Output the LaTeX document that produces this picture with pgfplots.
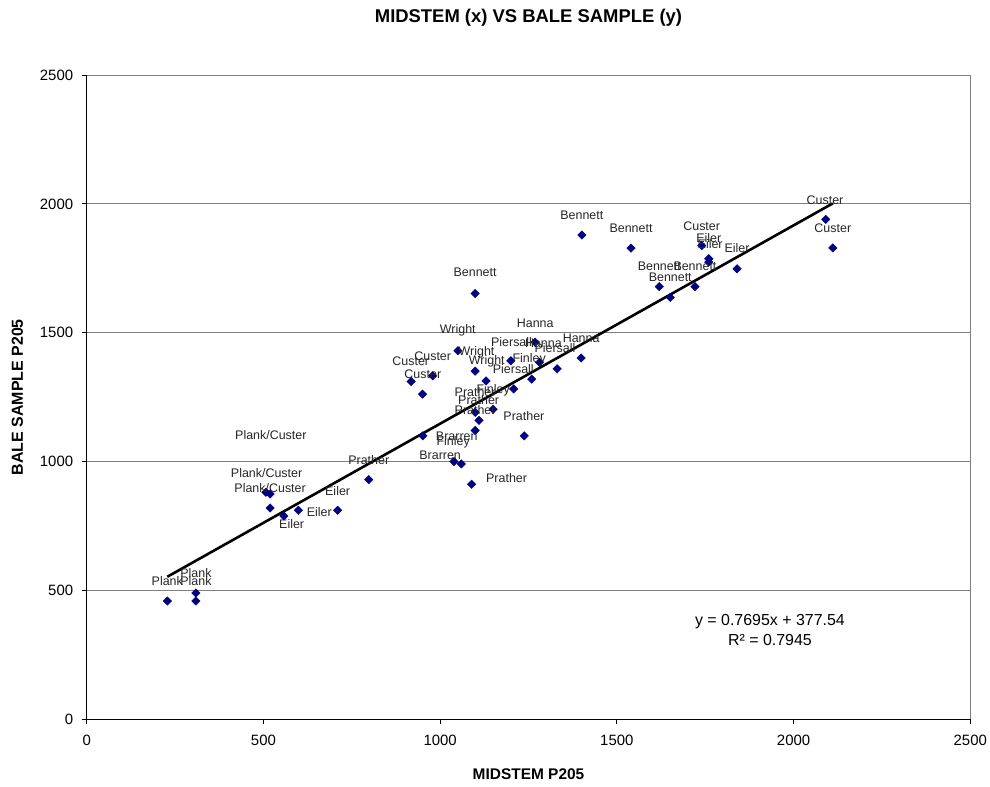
\documentclass[border=0pt]{standalone}
\usepackage{pgfplots}
\pgfplotsset{compat=1.18}
\usepackage{fontspec}
\setmainfont{Liberation Sans}

\definecolor{navymark}{HTML}{000080}
\definecolor{gridgray}{HTML}{7F7F7F}

% point values (midstem, bale sample)
\pgfplotstableread{
x y
228 459
309 490
309 459
507 881
519 874
519 820
558 789
599 811
710 811
798 930
1050 1430
1099 1351
1130 1313
979 1333
918 1311
950 1262
1269 1463
1200 1391
1281 1385
1331 1360
1399 1402
1259 1320
1208 1282
1150 1203
1099 1191
1110 1160
1099 1121
1238 1100
1089 912
951 1100
1039 1000
1060 991
1401 1879
1540 1828
1740 1838
1760 1787
1760 1774
1840 1748
1620 1679
1721 1679
1651 1637
2091 1940
2111 1829
1099 1652
}\points

% label positions as drawn in the chart
\pgfplotstableread{
x y label
1050 1508 Wright
1103 1426 Wright
1132 1388 Wright
979 1410 Custer
917 1388 Custer
951 1339 Custer
1269 1537 Hanna
1202 1465 Piersall
1292 1459 Hanna
1325 1440 Piersall
1399 1478 Hanna
1252 1397 Finley
1207 1358 Piersall
1150 1278 Finley
1099 1271 Prather
1109 1239 Prather
1099 1200 Prather
1237 1177 Prather
1188 937 Prather
1047 1097 Brarren
1037 1073 Finley
1000 1026 Brarren
1401 1957 Bennett
1540 1905 Bennett
1740 1915 Custer
1760 1868 Eiler
1764 1844 Eiler
1840 1828 Eiler
1620 1756 Bennett
1721 1756 Bennett
1651 1715 Bennett
2089 2015 Custer
2111 1905 Custer
1099 1733 Bennett
521 1103 Plank/Custer
509 957 Plank/Custer
519 896 Plank/Custer
798 1006 Prather
710 886 Eiler
658 803 Eiler
580 757 Eiler
228 537 Plank
309 567 Plank
309 537 Plank
}\labels

\begin{document}
\begin{tikzpicture}
\useasboundingbox (-86.7bp,-67.7bp) rectangle (903.3bp,719.3bp);
\begin{axis}[
    at={(0,0)}, anchor=south west,
    scale only axis,
    width=883.6bp,
    height=644.3bp,
    xmin=0, xmax=2500,
    ymin=0, ymax=2500,
    xtick={0,500,...,2500},
    ytick={0,500,...,2500},
    tick pos=left,
    tick align=outside,
    major tick length=5bp,
    tick style={black, line width=0.8bp},
    axis line style={black, line width=0.9bp},
    ymajorgrids=true,
    grid style={gridgray, line width=0.9bp},
    /pgf/number format/1000 sep={},
    /pgf/number format/assume math mode=true,
    ticklabel style={font=\fontsize{15}{15}\selectfont},
    xticklabel style={yshift=-7bp},
    yticklabel style={xshift=-5bp},
    title={MIDSTEM (x) VS BALE SAMPLE (y)},
    title style={at={(axis description cs:0.5,1.079)}, anchor=center,
        font=\fontsize{18.5}{21}\selectfont\bfseries},
    xlabel={MIDSTEM  P205},
    xlabel style={at={(axis description cs:0.5,-0.0854)}, anchor=center,
        font=\fontsize{15.5}{18}\selectfont\bfseries},
    ylabel={BALE SAMPLE P205},
    ylabel style={at={(axis description cs:-0.0785,0.5)}, anchor=center,
        font=\fontsize{16}{18}\selectfont\bfseries},
    clip=false,
]
\addplot[only marks, mark=square*, mark size=3bp,
    mark options={rotate=45, fill=navymark, draw=navymark}]
    table[x=x, y=y] {\points};

\addplot[black, line width=2.6bp] coordinates {(228,553.0) (2111,2001.9)};

\addplot[only marks, mark=none,
    nodes near coords, point meta=explicit symbolic,
    nodes near coords style={anchor=center, inner sep=0pt,
        font=\fontsize{12.5}{12.5}\selectfont, text=black!85}]
    table[x=x, y=y, meta=label] {\labels};

\draw[gridgray, line width=0.9bp] (rel axis cs:0,1) -- (rel axis cs:1,1) -- (rel axis cs:1,0);

\node[align=center, font=\fontsize{16}{20}\selectfont] at (axis cs:1933,346)
    {y = 0.7695x + 377.54\\R² = 0.7945};
\end{axis}
\end{tikzpicture}
\end{document}
